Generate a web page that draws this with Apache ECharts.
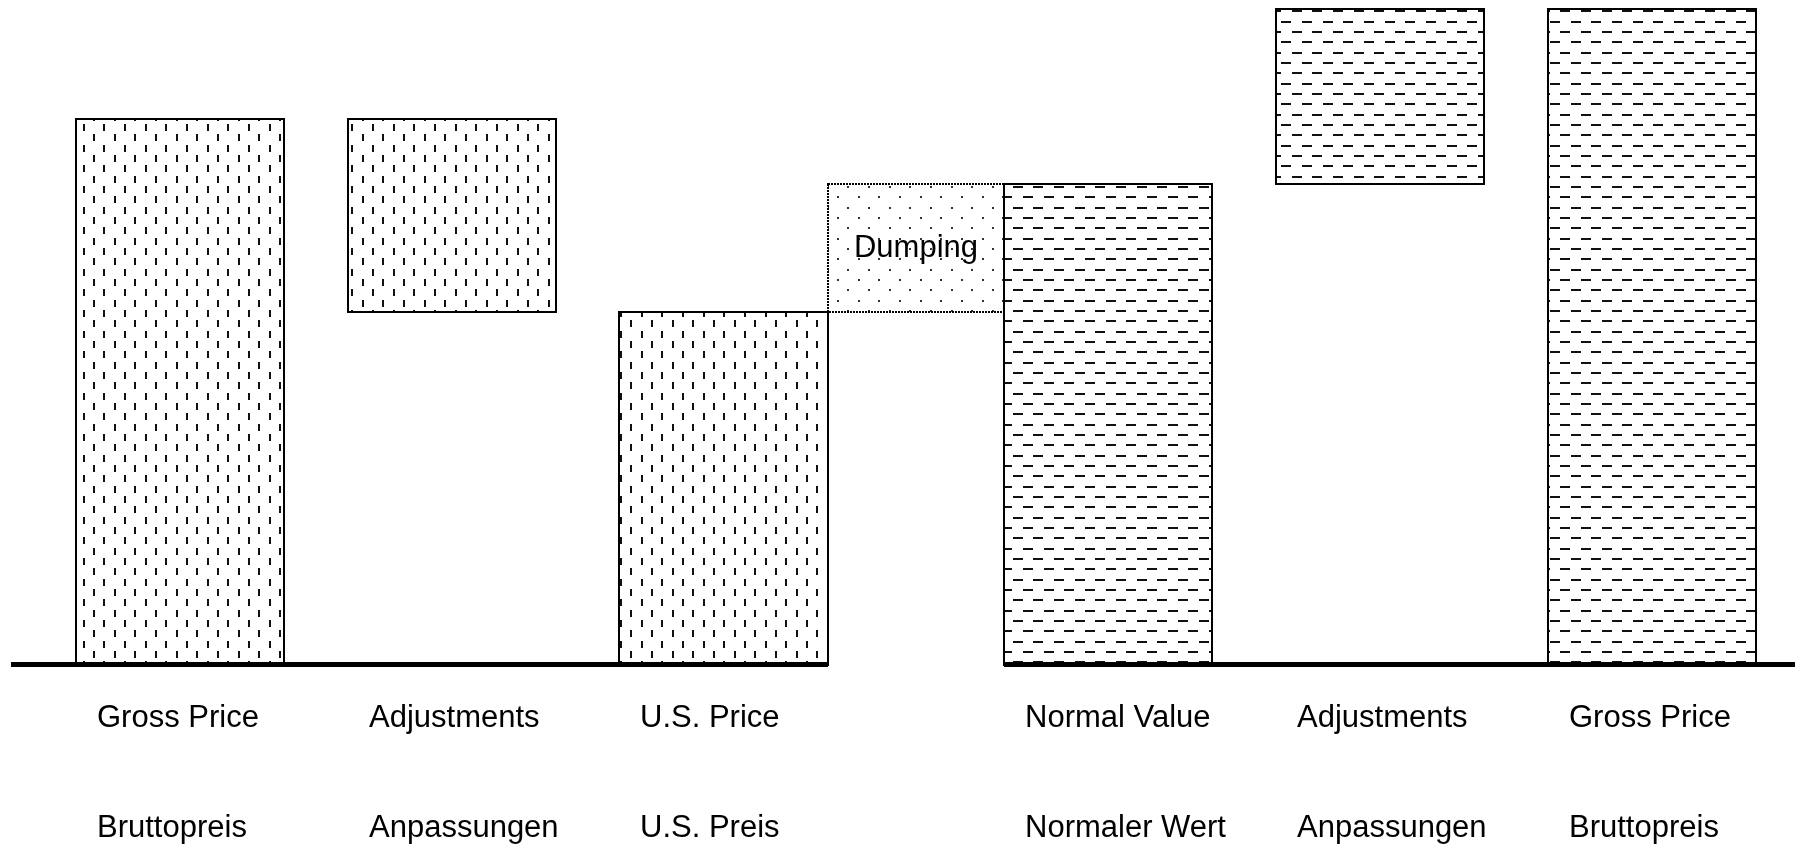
<!DOCTYPE html>
<html>
<head>
<meta charset="utf-8">
<title>Dumping</title>
<script src="https://cdn.jsdelivr.net/npm/echarts@6/dist/echarts.min.js"></script>
<style>
  html, body { margin: 0; padding: 0; background: #fff; }
  #main { width: 1795px; height: 847px; }
</style>
</head>
<body>
<div id="main"></div>
<script>
// labels under the bars (english row, german row)
var namesEn = ['Gross Price', 'Adjustments', 'U.S. Price', 'Normal Value', 'Adjustments', 'Gross Price'];
var namesDe = ['Bruttopreis', 'Anpassungen', 'U.S. Preis', 'Normaler Wert', 'Anpassungen', 'Bruttopreis'];
// where each bar sits on the x scale (extra gap after the 3rd one for dumping)
var slots = [0, 1, 2, 3.415, 4.415, 5.415];
// bottom / top of each bar (waterfall)
var barLow = [0, 64.6, 0, 0, 88.1, 0];
var barHigh = [100, 100, 64.6, 88.1, 120.2, 120.2];
// fill of each bar: v = vertical dashes, h = horizontal dashes
var barKind = ['v', 'v', 'v', 'h', 'h', 'h'];
var dumpingName = 'Dumping';

var barWidth = 0.765;
var xMin = -0.62, xMax = 5.94;
var font = '31px "Liberation Sans", Arial, sans-serif';

function makePattern(kind) {
  var c = document.createElement('canvas');
  var p = 62 / 3;
  c.width = 62;
  c.height = 62;
  var ctx = c.getContext('2d');
  ctx.fillStyle = kind === 'd' ? '#333' : '#111';
  for (var i = 0; i < 3; i++) {
    for (var j = 0; j < 3; j++) {
      var pts = [[i * p, j * p], [i * p + p / 2, j * p + p / 2]];
      pts.forEach(function (pt) {
        var x = Math.round(pt[0]), y = Math.round(pt[1]);
        if (kind === 'v') ctx.fillRect(x, y, 2, 7);
        else if (kind === 'h') ctx.fillRect(x, y, 10, 2);
        else ctx.fillRect(x, y, 2, 2);
      });
    }
  }
  return { image: c, repeat: 'repeat' };
}
var patterns = { v: makePattern('v'), h: makePattern('h'), d: makePattern('d') };

function textEl(str, x, y, align) {
  return {
    type: 'text',
    z2: 20,
    style: {
      text: str, x: x, y: y, font: font, fill: '#000',
      align: align, textAlign: align,
      verticalAlign: 'middle', textVerticalAlign: 'middle'
    }
  };
}

function renderBar(params, api) {
  var i = params.dataIndex;
  var x = api.value(0);
  var p0 = api.coord([x - barWidth / 2, api.value(1)]);
  var p1 = api.coord([x + barWidth / 2, api.value(2)]);
  var base = api.coord([x, 0]);
  var left = Math.round(p0[0]), right = Math.round(p1[0]);
  var top = Math.round(p1[1]), bottom = Math.round(p0[1]);
  return {
    type: 'group',
    children: [
      {
        type: 'rect',
        shape: { x: left, y: top, width: right - left, height: bottom - top },
        style: { fill: patterns[barKind[i]], stroke: '#000', lineWidth: 2 }
      },
      textEl(namesEn[i], left + 21, base[1] + 53.5, 'left'),
      textEl(namesDe[i], left + 21, base[1] + 163.5, 'left')
    ]
  };
}

function renderDumping(params, api) {
  var p0 = api.coord([api.value(0), api.value(2)]);
  var p1 = api.coord([api.value(1), api.value(3)]);
  var left = Math.round(p0[0]), right = Math.round(p1[0]);
  var top = Math.round(p1[1]), bottom = Math.round(p0[1]);
  return {
    type: 'group',
    children: [
      {
        type: 'rect',
        shape: { x: left, y: top, width: right - left, height: bottom - top },
        style: { fill: patterns.d, stroke: '#000', lineWidth: 2, lineDash: [2, 1] }
      },
      textEl(dumpingName, (left + right) / 2, (top + bottom) / 2, 'center')
    ]
  };
}

function renderBaseline(params, api) {
  var a = api.coord([api.value(0), 0]);
  var b = api.coord([api.value(1), 0]);
  var x0 = Math.round(a[0]), x1 = Math.round(b[0]);
  return {
    type: 'rect',
    shape: { x: x0, y: a[1] - 2.5, width: x1 - x0, height: 5 },
    style: { fill: '#000' }
  };
}

var barData = slots.map(function (s, i) { return [s, barLow[i], barHigh[i]]; });
var dumpData = [[slots[2] + barWidth / 2, slots[3] - barWidth / 2, barHigh[2], barHigh[3]]];
var baseData = [[xMin, slots[2] + barWidth / 2], [slots[3] - barWidth / 2, xMax]];

var chart = echarts.init(document.getElementById('main'));
chart.setOption({
  backgroundColor: '#fff',
  animation: false,
  grid: { left: 11, right: 0, top: 9, bottom: 182.5 },
  xAxis: { type: 'value', min: xMin, max: xMax, show: false },
  yAxis: { type: 'value', min: 0, max: 120.2, show: false },
  series: [
    {
      name: 'dumping',
      type: 'custom',
      z: 2,
      renderItem: renderDumping,
      encode: { x: [0, 1], y: [2, 3] },
      data: dumpData
    },
    {
      name: 'bars',
      type: 'custom',
      z: 3,
      renderItem: renderBar,
      encode: { x: 0, y: [1, 2] },
      data: barData
    },
    {
      name: 'baseline',
      type: 'custom',
      z: 4,
      renderItem: renderBaseline,
      encode: { x: [0, 1] },
      data: baseData
    }
  ]
});
</script>
</body>
</html>
